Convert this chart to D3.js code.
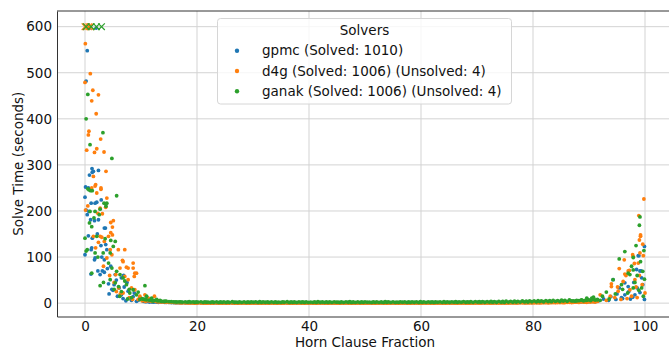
<!DOCTYPE html>
<html>
<head>
<meta charset="utf-8">
<script src="https://cdn.jsdelivr.net/npm/d3@7"></script>
<style>
  body { margin: 0; background: #fff; }
  svg { display: block; font-family: "DejaVu Sans", sans-serif; }
</style>
</head>
<body>
<div id="chart"></div>
<script>
const solverNames = ['gpmc', 'd4g', 'ganak'];
const solverColors = ['#1f77b4', '#ff7f0e', '#2ca02c'];
const solvedCounts = [1010, 1006, 1006];
const unsolvedCounts = [0, 4, 4];
const timeout = 600;
const xTicks = [0, 20, 40, 60, 80, 100];
const yTicks = [0, 100, 200, 300, 400, 500, 600];

// instances in the middle where every solver is fast
const bandFraction = [
  10.4, 11.0, 11.9, 12.3, 13.1, 14.0, 14.5, 15.4, 16.1, 16.8,
  17.4, 18.3, 18.9, 19.6, 20.2, 21.1, 21.7, 22.4, 23.0, 23.9,
  24.5, 25.2, 25.8, 26.7, 27.3, 28.0, 28.8, 29.4, 30.1, 30.9,
  31.5, 32.2, 32.9, 33.7, 34.3, 35.0, 35.6, 36.5, 37.1, 37.8,
  38.6, 39.2, 39.9, 40.7, 41.3, 42.0, 42.8, 43.4, 44.1, 44.9,
  45.5, 46.2, 47.0, 47.6, 48.3, 49.1, 49.7, 50.4, 51.2, 51.8,
  52.5, 53.3, 53.9, 54.6, 55.4, 56.0, 56.7, 57.5, 58.1, 58.8,
  59.6, 60.2, 60.9, 61.7, 62.3, 63.0, 63.8, 64.4, 65.1, 65.9,
  66.5, 67.2, 68.0, 68.6, 69.3, 70.1, 70.7, 71.4, 72.2, 72.8,
  73.5, 74.3, 74.9, 75.6, 76.4, 77.0, 77.7, 78.5, 79.1, 79.8,
  80.6, 81.2, 81.9, 82.7, 83.3, 84.0, 84.8, 85.4, 86.1, 86.9,
  87.5, 88.2, 89.0, 89.6, 90.3, 91.1,
  10.7, 11.5, 12.1, 12.8, 13.6, 14.2, 15.0, 15.8, 16.4,
  17.1, 17.9, 18.6, 19.3, 19.9, 20.7, 21.4, 22.0, 22.7, 23.5,
  24.2, 24.8, 25.5, 26.3, 27.0, 27.6, 28.4, 29.1, 29.7, 30.5,
  31.2, 31.8, 32.6, 33.3, 34.0, 34.6, 35.3, 36.1, 36.8, 37.4,
  38.2, 38.9, 39.5, 40.3, 41.0, 41.6, 42.4, 43.1, 43.7, 44.5,
  45.2, 45.8, 46.6, 47.3, 47.9, 48.7, 49.4, 50.0, 50.8, 51.5,
  52.1, 52.9, 53.6, 54.2, 55.0, 55.7, 56.3, 57.1, 57.8, 58.4,
  59.2, 59.9, 60.5, 61.3, 62.0, 62.6, 63.4, 64.1, 64.7, 65.5,
  66.2, 66.8, 67.6, 68.3, 68.9, 69.7, 70.4, 71.0, 71.8, 72.5,
  73.1, 73.9, 74.6, 75.2, 76.0, 76.7, 77.3, 78.1, 78.8, 79.4,
  80.2, 80.9, 81.5, 82.3, 83.0, 83.6, 84.4, 85.1, 85.7, 86.5,
  87.2, 87.8, 88.6, 89.3, 89.9, 90.7, 91.5
];
const gpmcBand = [
  4.1, 3.2, 2.8, 2.5, 1.9, 2.2, 1.6, 1.4, 1.2, 1.0,
  0.9, 1.1, 0.8, 0.7, 0.9, 0.6, 0.8, 0.7, 0.5, 0.6,
  0.7, 0.5, 0.6, 0.8, 0.4, 0.6, 0.5, 0.7, 0.6, 0.5,
  0.4, 0.6, 0.5, 0.7, 0.5, 0.4, 0.6, 0.5, 0.8, 0.6,
  0.5, 0.7, 0.4, 0.6, 0.5, 0.6, 0.4, 0.5, 0.7, 0.6,
  0.5, 0.6, 0.8, 0.5, 0.4, 0.6, 0.7, 0.5, 0.6, 0.4,
  0.6, 0.5, 0.7, 0.4, 0.6, 0.5, 0.8, 0.6, 0.5, 0.7,
  0.6, 0.5, 0.7, 0.6, 0.8, 0.7, 0.6, 0.9, 0.7, 0.8,
  0.9, 0.7, 1.0, 0.8, 1.1, 0.9, 1.0, 1.2, 0.9, 1.1,
  1.2, 1.0, 1.3, 1.1, 1.4, 1.2, 1.5, 1.3, 1.6, 1.4,
  1.7, 1.5, 1.9, 1.6, 2.1, 1.8, 2.3, 2.0, 2.6, 2.2,
  2.9, 2.4, 3.3, 2.8, 3.8, 3.1,
  3.6, 3.0, 2.6, 2.1, 2.0, 1.7, 1.5, 1.3, 1.1,
  1.0, 0.8, 0.9, 0.7, 0.6, 0.8, 0.5, 0.7, 0.6, 0.5,
  0.6, 0.4, 0.7, 0.5, 0.6, 0.5, 0.8, 0.4, 0.6, 0.5,
  0.7, 0.5, 0.4, 0.6, 0.7, 0.5, 0.6, 0.4, 0.5, 0.7,
  0.6, 0.4, 0.5, 0.7, 0.6, 0.5, 0.6, 0.8, 0.4, 0.5,
  0.7, 0.5, 0.6, 0.4, 0.5, 0.7, 0.6, 0.5, 0.4, 0.6,
  0.5, 0.7, 0.6, 0.5, 0.7, 0.4, 0.6, 0.7, 0.5, 0.6,
  0.7, 0.6, 0.8, 0.5, 0.7, 0.8, 0.6, 0.7, 0.9, 0.8,
  0.8, 1.0, 0.9, 1.1, 0.8, 1.0, 1.1, 0.9, 1.2, 1.0,
  1.1, 1.3, 1.2, 1.4, 1.3, 1.5, 1.4, 1.7, 1.5, 1.8,
  1.9, 1.6, 2.2, 1.9, 2.4, 2.1, 2.5, 2.3, 2.8, 2.4,
  2.5, 2.7, 3.0, 3.4, 3.2, 4.0, 4.6
];
const d4gBand = [
  6.2, 5.1, 3.9, 4.4, 3.0, 2.6, 2.1, 1.7, 1.3, 0.9,
  0.6, 0.4, 0.5, 0.3, 0.4, 0.2, 0.3, 0.2, 0.3, 0.2,
  0.2, 0.1, 0.3, 0.2, 0.1, 0.2, 0.3, 0.1, 0.2, 0.2,
  0.1, 0.2, 0.2, 0.3, 0.1, 0.2, 0.1, 0.2, 0.3, 0.2,
  0.2, 0.1, 0.2, 0.2, 0.3, 0.1, 0.2, 0.2, 0.1, 0.3,
  0.2, 0.2, 0.1, 0.2, 0.3, 0.2, 0.1, 0.2, 0.2, 0.1,
  0.3, 0.2, 0.1, 0.2, 0.2, 0.3, 0.1, 0.2, 0.2, 0.1,
  0.2, 0.3, 0.2, 0.1, 0.2, 0.3, 0.2, 0.2, 0.1, 0.3,
  0.2, 0.3, 0.2, 0.3, 0.2, 0.4, 0.3, 0.2, 0.3, 0.4,
  0.3, 0.2, 0.4, 0.3, 0.5, 0.4, 0.6, 0.4, 0.7, 0.5,
  0.8, 0.6, 1.0, 0.7, 1.2, 0.9, 1.4, 1.1, 1.7, 1.3,
  2.0, 1.6, 2.5, 1.9, 3.0, 2.4,
  5.5, 4.7, 4.0, 3.3, 2.8, 2.3, 1.9, 1.5, 1.1,
  0.8, 0.5, 0.4, 0.3, 0.3, 0.2, 0.2, 0.3, 0.1, 0.2,
  0.1, 0.2, 0.3, 0.1, 0.2, 0.1, 0.2, 0.2, 0.1, 0.3,
  0.2, 0.1, 0.2, 0.1, 0.3, 0.2, 0.1, 0.2, 0.1, 0.2,
  0.3, 0.2, 0.1, 0.2, 0.1, 0.2, 0.3, 0.1, 0.2, 0.1,
  0.2, 0.1, 0.3, 0.2, 0.1, 0.2, 0.2, 0.1, 0.3, 0.2,
  0.1, 0.2, 0.2, 0.1, 0.2, 0.3, 0.1, 0.2, 0.1, 0.2,
  0.3, 0.1, 0.2, 0.2, 0.1, 0.2, 0.3, 0.2, 0.1, 0.2,
  0.2, 0.3, 0.2, 0.2, 0.3, 0.2, 0.3, 0.4, 0.2, 0.3,
  0.4, 0.3, 0.5, 0.3, 0.4, 0.6, 0.5, 0.7, 0.6, 0.8,
  0.7, 0.9, 0.8, 1.1, 1.0, 1.3, 1.2, 1.5, 1.4, 1.8,
  1.8, 2.2, 2.7, 2.3, 3.4, 2.9, 3.8
];
const ganakBand = [
  8.5, 7.2, 5.6, 6.1, 4.8, 3.9, 4.3, 3.2, 2.9, 2.6,
  2.4, 2.1, 2.3, 1.9, 2.2, 1.8, 2.0, 1.7, 1.9, 1.6,
  1.8, 1.5, 1.7, 1.9, 1.6, 1.8, 1.5, 1.7, 2.0, 1.6,
  1.7, 1.9, 1.5, 1.8, 1.6, 1.7, 2.0, 1.6, 1.8, 1.5,
  1.9, 1.6, 1.7, 1.8, 1.5, 1.9, 1.7, 1.6, 1.8, 2.0,
  1.6, 1.7, 1.9, 1.5, 1.8, 1.6, 1.7, 2.0, 1.6, 1.8,
  1.7, 1.5, 1.9, 1.8, 1.6, 1.7, 2.0, 1.6, 1.8, 1.9,
  1.6, 1.8, 1.7, 1.9, 1.6, 2.0, 1.8, 1.7, 1.9, 2.1,
  1.8, 2.0, 1.9, 2.1, 1.8, 2.2, 2.0, 1.9, 2.2, 2.1,
  1.9, 2.1, 1.8, 2.3, 2.0, 2.5, 2.2, 2.7, 2.4, 3.0,
  2.8, 3.3, 3.0, 3.6, 3.2, 4.0, 3.5, 4.4, 3.9, 4.9,
  4.5, 5.4, 5.0, 6.1, 5.6, 6.8,
  7.9, 6.5, 5.2, 5.5, 4.1, 3.6, 3.4, 2.8, 2.5,
  2.9, 2.6, 3.0, 2.7, 2.5, 2.8, 2.6, 2.4, 2.9, 2.7,
  2.5, 2.8, 2.6, 3.0, 2.4, 2.7, 2.9, 2.5, 2.6, 2.8,
  3.1, 2.6, 2.5, 2.9, 2.7, 2.4, 2.8, 3.0, 2.6, 2.5,
  2.7, 2.9, 2.6, 2.4, 2.8, 3.0, 2.5, 2.7, 2.6, 2.9,
  2.4, 2.6, 2.8, 3.1, 2.5, 2.7, 2.6, 2.9, 2.4, 2.8,
  2.7, 2.5, 3.0, 2.6, 2.8, 2.4, 2.9, 2.7, 2.5, 2.6,
  2.8, 3.0, 2.6, 2.7, 2.9, 2.5, 2.8, 3.1, 2.7, 2.9,
  3.0, 2.8, 3.2, 2.9, 3.1, 3.3, 3.0, 3.4, 3.2, 3.6,
  3.4, 3.8, 3.5, 4.1, 3.7, 4.3, 4.0, 4.6, 4.2, 4.9,
  4.7, 5.2, 4.9, 5.6, 5.3, 6.0, 5.6, 6.4, 6.0, 6.9,
  5.1, 5.9, 6.4, 5.8, 7.3, 8.0, 7.1
];

// slow instances near both ends
const gpmcFraction = [
  0.8, 2.0, 0.4, 0.2, 1.25, 2.4, 1.3, 0.8, 1.5, 0.1,
  0.0, 1.1, 2.1, 2.9, 0.7, 1.7, 3.45, 3.65, 2.4, 0.6,
  1.3, 0.4, 1.0, 0.6, 0.2, 1.8, 0.0, 1.1, 2.85, 3.9,
  3.45, 1.7, 1.2, 1.8, 3.7, 1.07, 2.3, 3.1, 3.45, 2.7,
  4.2, 4.3, 5.2, 6.1, 6.5, 7.0, 7.7, 8.0, 8.8, 10.7,
  6.5, 5.4, 4.6, 5.0, 5.8, 6.8, 7.3, 8.3, 9.2, 9.8,
  11.5, 7.5, 6.9, 4.8, 9.5, 3.0, 2.2, 4.0, 5.6, 8.6,
  99.9, 98.9, 98.5, 99.3, 96.4, 95.4, 98.6, 99.1, 94.3, 97.0,
  96.4, 97.8, 97.4, 99.1, 98.8, 95.8, 94.8, 93.5, 92.6, 91.7,
  99.6, 98.2, 97.1, 96.0, 95.0, 93.9, 99.9, 99.4, 98.0, 90.8
];
const gpmcTime = [
  597, 597, 548, 482, 292, 288, 284, 278, 286, 252,
  230, 217, 219, 224, 199, 179, 163, 163, 181, 146,
  141, 192, 181, 250, 202, 217, 105, 116, 125, 116,
  94, 94, 120, 98, 127, 63, 70, 70, 67, 62,
  42, 20, 40, 33, 18, 35, 26, 11, 22, 8,
  55, 62, 80, 28, 15, 10, 5, 6, 4, 12,
  3, 45, 60, 30, 6, 100, 150, 75, 50, 14,
  123, 103, 73, 70, 44, 33, 33, 23, 51, 36,
  18, 13, 9, 70, 103, 12, 8, 6, 9, 5,
  40, 18, 25, 10, 20, 14, 8, 55, 45, 4
];
const d4gFraction = [
  0.06, 0.95, 0.0, 1.4, 2.4, 1.2, 2.0, 0.7, 0.6, 2.8,
  2.1, 0.3, 1.7, 3.4, 3.75, 1.5, 1.9, 1.2, 2.85, 2.1,
  3.9, 0.5, 3.7, 2.3, 5.06, 4.6, 4.9, 4.6, 2.7, 4.2,
  4.9, 3.1, 1.5, 3.0, 3.45, 4.5, 5.95, 7.1, 1.9, 6.8,
  7.7, 8.6, 6.25, 5.5, 8.8, 9.2, 7.1, 7.7, 6.0, 8.3,
  8.9, 6.8, 9.8, 11.3, 12.4, 10.7, 4.8, 3.9, 6.7, 8.6,
  7.4, 2.85, 1.8, 0.1, 2.7, 2.4, 9.5, 10.2, 10.8, 11.7,
  12.8, 13.5, 7.9, 8.5, 6.3, 5.6, 5.2, 4.4, 3.3, 8.9,
  99.8, 98.9, 99.2, 99.2, 99.0, 99.6, 99.1, 97.8, 99.7, 96.3,
  98.1, 98.8, 95.4, 97.0, 97.2, 96.4, 96.6, 98.2, 96.1, 94.0,
  94.0, 95.1, 95.2, 97.3, 92.0, 93.8, 100.0, 99.5, 97.6, 96.8,
  95.7, 94.6, 93.1, 91.4, 99.0, 98.4, 90.2, 89.1, 97.9, 98.6
];
const d4gTime = [
  563, 498, 479, 462, 452, 439, 411, 373, 365, 356,
  335, 332, 327, 328, 286, 275, 257, 250, 250, 239,
  228, 211, 208, 195, 179, 175, 165, 153, 145, 145,
  148, 194, 145, 143, 134, 116, 116, 116, 120, 90,
  76, 76, 76, 62, 58, 65, 58, 51, 33, 33,
  29, 22, 15, 11, 15, 18, 105, 98, 93, 87,
  78, 247, 254, 202, 206, 132, 8, 5, 4, 6,
  4, 3, 12, 8, 20, 25, 45, 60, 80, 65,
  226, 190, 148, 145, 137, 128, 109, 105, 103, 94,
  86, 87, 75, 70, 71, 63, 60, 51, 47, 42,
  36, 35, 26, 29, 18, 15, 22, 40, 15, 10,
  8, 12, 6, 5, 60, 35, 3, 4, 101, 12
];
const ganakFraction = [
  0.5, 0.2, 3.2, 0.9, 4.8, 0.5, 0.7, 0.0, 0.4, 0.2,
  1.2, 2.7, 3.3, 5.65, 3.9, 3.75, 1.2, 0.8, 1.6, 2.55,
  2.1, 5.4, 5.05, 4.5, 3.25, 1.8, 4.2, 4.8, 5.65, 6.25,
  6.8, 4.5, 5.4, 6.0, 7.4, 8.6, 10.7, 8.0, 9.2, 11.0,
  11.9, 9.8, 12.8, 2.7, 3.4, 1.0, 0.9, 3.7, 1.3, 1.8,
  4.6, 7.1, 7.9, 6.5, 5.2, 8.3, 10.2, 9.5, 12.2, 13.4,
  14.3, 2.3, 3.6, 6.2, 7.6,
  99.1, 99.0, 98.4, 99.8, 96.4, 95.4, 97.6, 97.0, 99.6, 94.3,
  97.9, 97.9, 97.3, 98.6, 97.9, 99.4, 93.1, 92.4, 99.7, 90.8,
  89.6, 90.5, 95.8, 96.9, 98.2, 94.7, 93.6, 92.0, 98.9, 99.9,
  99.2, 96.0, 91.5, 88.7, 87.8
];
const ganakTime = [
  453, 400, 370, 344, 314, 248, 246, 141, 116, 113,
  65, 38, 45, 233, 217, 210, 166, 174, 185, 192,
  145, 134, 123, 109, 109, 109, 87, 76, 69, 62,
  55, 51, 44, 36, 40, 29, 38, 22, 18, 15,
  11, 8, 8, 204, 217, 244, 199, 215, 244, 199,
  136, 48, 30, 25, 30, 12, 10, 24, 5, 6,
  4, 100, 140, 15, 9,
  187, 169, 125, 114, 112, 96, 80, 65, 69, 51,
  99, 72, 62, 60, 33, 33, 24, 15, 15, 13,
  11, 11, 40, 22, 45, 20, 9, 6, 28, 52,
  90, 30, 8, 7, 5
];
// instances that hit the timeout
const gpmcUnsolved = [];
const d4gUnsolved = [0.0, 0.3, 0.7, 1.0];
const ganakUnsolved = [0.2, 1.1, 2.05, 2.95];

const width = 669, height = 352;
const plot = {left: 57, right: 673, top: 11, bottom: 316.5};

const svg = d3.select('#chart').append('svg')
  .attr('width', width)
  .attr('height', height);

const x = d3.scaleLinear().domain([-5, 105]).range([plot.left, plot.right]);
const y = d3.scaleLinear().domain([-29, 634]).range([plot.bottom, plot.top]);

// grid
svg.append('g').selectAll('line').data(xTicks).join('line')
  .attr('x1', d => x(d)).attr('x2', d => x(d))
  .attr('y1', plot.top).attr('y2', plot.bottom)
  .attr('stroke', '#d3d3d3').attr('stroke-width', 1);
svg.append('g').selectAll('line').data(yTicks).join('line')
  .attr('x1', plot.left).attr('x2', plot.right)
  .attr('y1', d => y(d)).attr('y2', d => y(d))
  .attr('stroke', '#d3d3d3').attr('stroke-width', 1);

const series = [
  {frac: bandFraction.concat(gpmcFraction), time: gpmcBand.concat(gpmcTime), unsolved: gpmcUnsolved},
  {frac: bandFraction.concat(d4gFraction), time: d4gBand.concat(d4gTime), unsolved: d4gUnsolved},
  {frac: bandFraction.concat(ganakFraction), time: ganakBand.concat(ganakTime), unsolved: ganakUnsolved}
];

const marks = svg.append('g');
series.forEach((s, k) => {
  const pts = s.frac.map((f, i) => ({f: f, t: s.time[i]}));
  marks.append('g').selectAll('circle').data(pts).join('circle')
    .attr('cx', d => x(d.f))
    .attr('cy', d => y(d.t))
    .attr('r', 1.9)
    .attr('fill', solverColors[k]);
  marks.append('g').selectAll('path').data(s.unsolved).join('path')
    .attr('transform', d => `translate(${x(d)},${y(timeout)})`)
    .attr('d', 'M-3.3,-3.3L3.3,3.3M-3.3,3.3L3.3,-3.3')
    .attr('stroke', solverColors[k])
    .attr('stroke-width', 1.2)
    .attr('fill', 'none');
});

// axes
const xAxis = svg.append('g')
  .attr('transform', `translate(0,${plot.bottom})`)
  .call(d3.axisBottom(x).tickValues(xTicks).tickSize(0).tickPadding(5).tickSizeOuter(0));
const yAxis = svg.append('g')
  .attr('transform', `translate(${plot.left},0)`)
  .call(d3.axisLeft(y).tickValues(yTicks).tickSize(0).tickPadding(5).tickSizeOuter(0));
[xAxis, yAxis].forEach(a => {
  a.select('.domain').attr('stroke', '#333').attr('stroke-width', 1);
  a.selectAll('text').attr('font-size', '13.5px').attr('fill', '#111')
    .attr('font-family', '"DejaVu Sans", sans-serif');
});
svg.append('line')
  .attr('x1', plot.left).attr('x2', plot.right)
  .attr('y1', plot.top).attr('y2', plot.top)
  .attr('stroke', '#333').attr('stroke-width', 1);

svg.append('text')
  .attr('x', (plot.left + plot.right) / 2)
  .attr('y', 347)
  .attr('text-anchor', 'middle')
  .attr('font-size', '13.5px')
  .attr('fill', '#111')
  .text('Horn Clause Fraction');
svg.append('text')
  .attr('transform', `translate(23,${(plot.top + plot.bottom) / 2}) rotate(-90)`)
  .attr('text-anchor', 'middle')
  .attr('font-size', '13.5px')
  .attr('fill', '#111')
  .text('Solve Time (seconds)');

// legend
const legend = svg.append('g');
legend.append('rect')
  .attr('x', 217.5).attr('y', 18.5)
  .attr('width', 294).attr('height', 85.5)
  .attr('rx', 3)
  .attr('fill', '#fff').attr('fill-opacity', 0.8)
  .attr('stroke', '#d6d6d6');
legend.append('text')
  .attr('x', 364.5).attr('y', 30)
  .attr('dy', '0.35em')
  .attr('text-anchor', 'middle')
  .attr('font-size', '13.5px')
  .attr('fill', '#111')
  .text('Solvers');
const entry = legend.selectAll('g.entry').data(solverNames).join('g')
  .attr('class', 'entry')
  .attr('transform', (d, k) => `translate(0,${50.7 + k * 20.3})`);
entry.append('circle')
  .attr('cx', 237).attr('cy', 0).attr('r', 2.2)
  .attr('fill', (d, k) => solverColors[k]);
entry.append('text')
  .attr('x', 262).attr('y', 0)
  .attr('dy', '0.35em')
  .attr('font-size', '13.5px')
  .attr('fill', '#111')
  .text((d, k) => `${d} (Solved: ${solvedCounts[k]})` +
    (unsolvedCounts[k] ? ` (Unsolved: ${unsolvedCounts[k]})` : ''));
</script>
</body>
</html>
